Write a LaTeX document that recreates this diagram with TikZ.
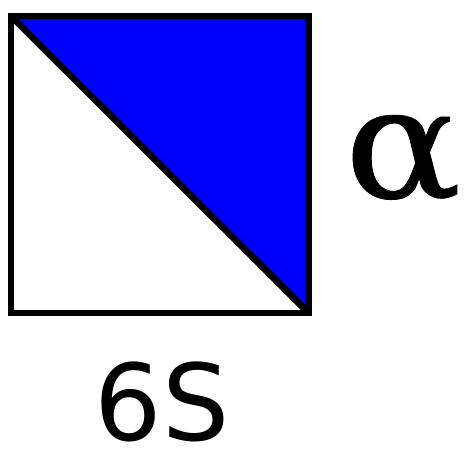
\documentclass[tikz,border=0pt]{standalone}
\usepackage{fontspec}
\setmainfont{DejaVu Sans}
\newfontfamily\greekfont[FakeBold=0.5]{DejaVu Serif}
\usetikzlibrary{positioning}
\definecolor{TileBlue}{RGB}{0,0,255}

\begin{document}
\begin{tikzpicture}[x=1pt,y=1pt,
  tileedge/.style={draw=black,line width=6.5pt,line join=miter},
  caption/.style={inner sep=0pt,font=\fontsize{106}{116}\selectfont},
  symbol/.style={inner sep=0pt,xscale=1.12,transform shape,font=\greekfont\fontsize{155}{165}\selectfont}]
  \useasboundingbox (0,0) rectangle (465,450);
  \coordinate (nw) at (11,434);
  \coordinate (ne) at (308.5,434);
  \coordinate (se) at (308.5,137);
  \coordinate (sw) at (11,137);
  \fill[TileBlue] (nw)--(ne)--(se)--cycle;
  \draw[tileedge] (nw)--(se);
  \draw[tileedge] (nw)--(ne)--(se)--(sw)--cycle;
  \node[symbol] (alpha) at (403,291) {α};
  \node[caption] (label) at (162,48) {6S};
\end{tikzpicture}
\end{document}
